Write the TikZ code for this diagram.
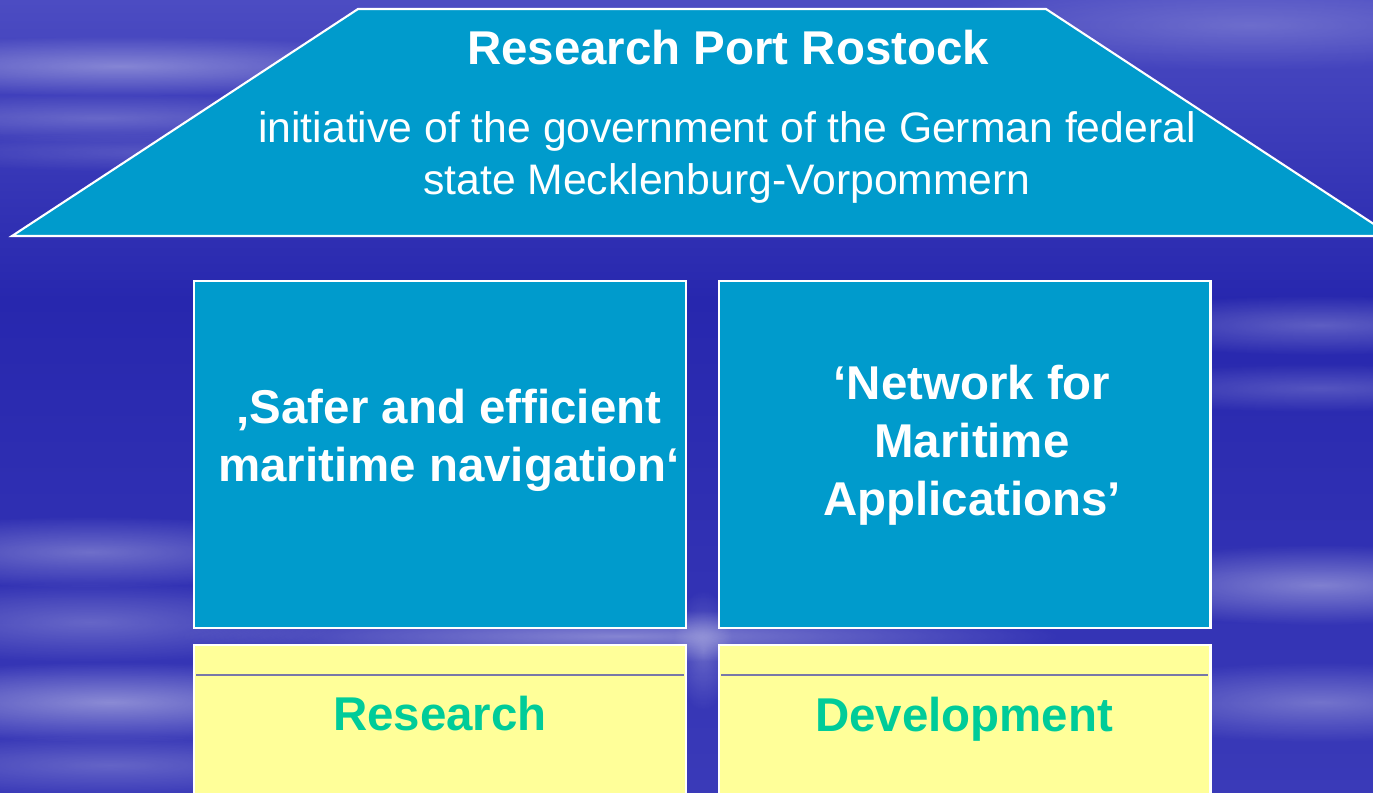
\documentclass[tikz,border=0pt]{standalone}
\usepackage{fontspec}
\setmainfont{Liberation Sans}
\usetikzlibrary{fadings}
\definecolor{sky-top}{HTML}{4C4CC2}
\definecolor{sky-mid}{HTML}{2727AE}
\definecolor{sky-low}{HTML}{3A3AB8}
\definecolor{port-cyan}{HTML}{009BCC}
\definecolor{pale-yellow}{HTML}{FFFF99}
\definecolor{sea-green}{HTML}{00CC99}
\definecolor{rule-grey}{HTML}{7878A8}
\tikzfading[name=soft streak, inner color=transparent!0, outer color=transparent!100]

\begin{document}
\begin{tikzpicture}[x=0.02cm, y=-0.02cm,
    streak/.style={white, opacity=#1, path fading=soft streak},
    pillar/.style={draw=white, line width=1.2pt, fill=port-cyan,
      minimum width=9.84cm, minimum height=6.94cm, inner sep=0pt},
    plinth/.style={draw=white, line width=1.2pt, fill=pale-yellow,
      minimum width=9.84cm, minimum height=3.2cm, inner sep=0pt, anchor=north},
    headline/.style={text=white, align=center, font=\fontsize{27}{33}\selectfont\bfseries},
    subline/.style={text=white, align=center, font=\fontsize{24.3}{29.6}\selectfont},
    plinthtext/.style={text=sea-green, font=\fontsize{27}{33}\selectfont\bfseries}]
  \useasboundingbox (0,0) rectangle (1373,792);
  \clip (0,0) rectangle (1373,792);

  % sky
  \shade[top color=sky-top, bottom color=sky-mid] (0,0) rectangle (1373,300);
  \shade[top color=sky-mid, bottom color=sky-low] (0,299) rectangle (1373,792);
  \fill[streak=0.35] (120,66) ellipse (330 and 30);
  \fill[streak=0.22] (100,118) ellipse (300 and 24);
  \fill[streak=0.15] (150,152) ellipse (260 and 20);
  \fill[streak=0.2] (1250,25) ellipse (320 and 45);
  \fill[streak=0.3] (90,552) ellipse (250 and 36);
  \fill[streak=0.25] (90,622) ellipse (250 and 40);
  \fill[streak=0.42] (110,702) ellipse (290 and 40);
  \fill[streak=0.22] (110,765) ellipse (260 and 30);
  \fill[streak=0.25] (1320,325) ellipse (240 and 30);
  \fill[streak=0.2] (1320,388) ellipse (240 and 24);
  \fill[streak=0.38] (1320,585) ellipse (250 and 40);
  \fill[streak=0.3] (1320,702) ellipse (240 and 40);
  \fill[streak=0.4] (620,636) ellipse (440 and 26);
  \fill[streak=0.25] (703,650) ellipse (30 and 60);

  % roof
  \draw[draw=white, line width=1.2pt, fill=port-cyan]
    (358,9) -- (1046,9) -- (1392,236) -- (12,236) -- cycle;
  \node[headline] (title) at (728,48) {Research Port Rostock};
  \node[subline] (initiative) at (727,157)
    {initiative of the government of the German federal\\state Mecklenburg-Vorpommern};

  % pillars
  \node[pillar] (navbox) at (440,454.5) {};
  \node[pillar] (netbox) at (964.5,454.5) {};
  \node[headline] (navtext) at (449,440) {‚Safer and efficient\\maritime navigation‘};
  \node[headline] (nettext) at (972,445) {‘Network for\\Maritime\\Applications’};

  % plinths
  \node[plinth] (research) at (440,644) {};
  \node[plinth] (development) at (964.5,644) {};
  \draw[rule-grey, line width=0.6pt] (196,675) -- (684,675);
  \draw[rule-grey, line width=0.6pt] (721,675) -- (1208,675);
  \node[plinthtext] (restext) at (440,714) {Research};
  \node[plinthtext] (devtext) at (964,719) {Development};
\end{tikzpicture}
\end{document}
